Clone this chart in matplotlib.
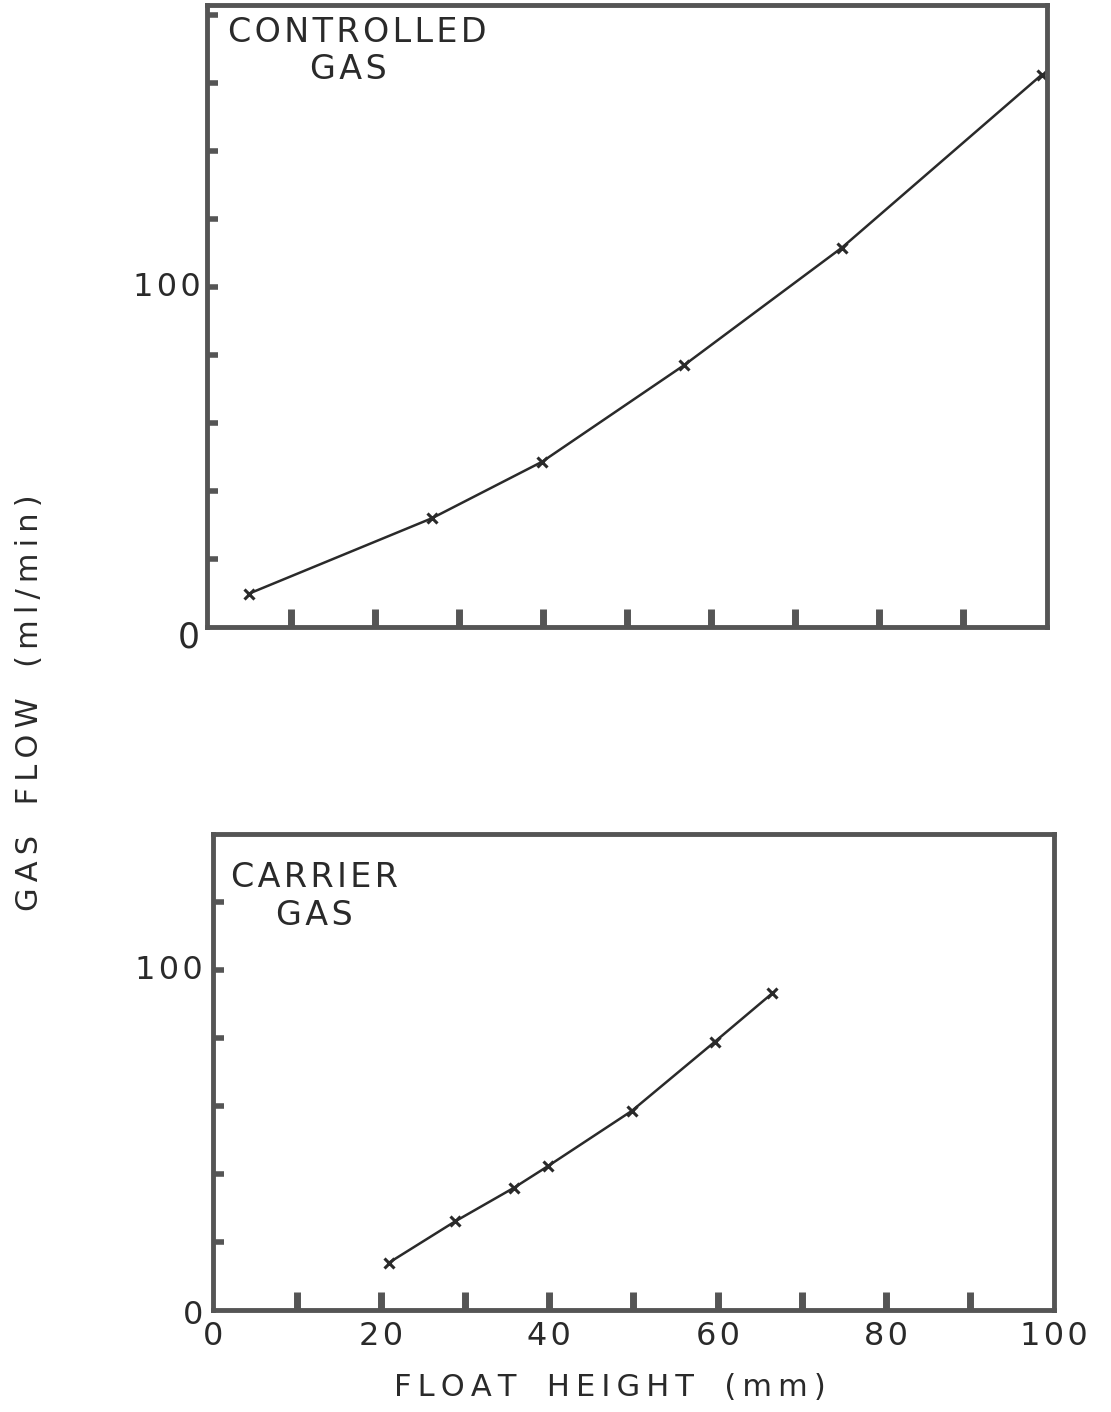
import numpy as np
import matplotlib
matplotlib.use("Agg")
import matplotlib.pyplot as plt

# float height (mm) vs gas flow (ml/min)
ctrl_height = [5.0, 26.8, 39.9, 56.8, 75.6, 99.4]
ctrl_flow = [9.8, 32.0, 48.6, 77.0, 111.6, 162.5]

carr_height = [20.9, 28.8, 35.8, 39.8, 49.8, 59.7, 66.5]
carr_flow = [13.9, 26.1, 36.0, 42.3, 58.6, 79.0, 93.2]

x_ticks = np.arange(10, 100, 10)
x_labels = ["0", "20", "40", "60", "80", "100"]

ink = "#2a2a2a"
frame = "#555555"
plt.rcParams["font.family"] = ["DejaVu Sans"]

fig = plt.figure(figsize=(11.11, 14.12), dpi=100)
ax1 = fig.add_axes([0.1863, 0.556, 0.756, 0.4405])
ax2 = fig.add_axes([0.1917, 0.0722, 0.757, 0.337])


def style(ax, ymax):
    ax.set_xlim(0, 100)
    ax.set_ylim(0, ymax)
    for s in ax.spines.values():
        s.set_linewidth(3.5)
        s.set_color(frame)
    ax.set_xticks(x_ticks)
    ax.set_xticklabels([])
    ax.set_yticks(np.arange(20, ymax, 20))
    ax.set_yticklabels([])
    ax.tick_params(axis="x", direction="in", length=13, width=5, color=frame)
    ax.tick_params(axis="y", direction="in", length=8, width=4, color=frame)


def spaced(s, gap="\u200a"):
    # a little extra room between letters
    return gap.join(s)


style(ax1, 183)
ax1.plot(ctrl_height, ctrl_flow, color=ink, lw=1.8, marker="x", ms=7, mew=2.2)
ax1.text(0.025, 0.955, spaced("CONTROLLED"), transform=ax1.transAxes, fontsize=24,
         color=ink, va="center", ha="left")
ax1.text(0.168, 0.897, spaced("GAS"), transform=ax1.transAxes, fontsize=24,
         color=ink, va="center", ha="center")
ax1.text(-0.008, 100, spaced("100"), transform=ax1.get_yaxis_transform(), fontsize=23,
         color=ink, ha="right", va="center")
ax1.text(-0.009, -3, "0", transform=ax1.get_yaxis_transform(), fontsize=25,
         color=ink, ha="right", va="center")

style(ax2, 140)
ax2.plot(carr_height, carr_flow, color=ink, lw=1.8, marker="x", ms=7, mew=2.2)
ax2.text(0.022, 0.91, spaced("CARRIER"), transform=ax2.transAxes, fontsize=24,
         color=ink, va="center", ha="left")
ax2.text(0.12, 0.83, spaced("GAS"), transform=ax2.transAxes, fontsize=24,
         color=ink, va="center", ha="center")
ax2.text(-0.012, 100, spaced("100"), transform=ax2.get_yaxis_transform(), fontsize=23,
         color=ink, ha="right", va="center")
ax2.text(-0.012, -1.5, "0", transform=ax2.get_yaxis_transform(), fontsize=23,
         color=ink, ha="right", va="center")
for i, lab in enumerate(x_labels):
    ax2.text(i * 20, -0.056, spaced(lab), transform=ax2.get_xaxis_transform(), fontsize=23,
             color=ink, ha="center", va="center")

xlab = "\u2002\u2002".join(spaced(w, "\u2009") for w in ["FLOAT", "HEIGHT", "(mm)"])
ylab = "\u2002\u2002".join(spaced(w, "\u2009") for w in ["GAS", "FLOW", "(ml/min)"])
fig.text(0.549, 0.017, xlab, fontsize=22, color=ink, ha="center", va="center")
fig.text(0.027, 0.502, ylab, fontsize=22, color=ink, ha="center", va="center",
         rotation=90)

fig.savefig("out.png", dpi=100, facecolor="white")
